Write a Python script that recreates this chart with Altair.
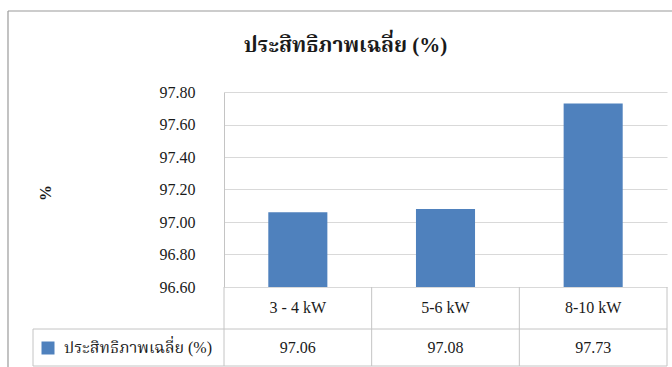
import altair as alt
import pandas as pd

# ---- data ----
categories = ["3 - 4 kW", "5-6 kW", "8-10 kW"]
efficiency = [97.06, 97.08, 97.73]
y_ticks = [96.6, 96.8, 97.0, 97.2, 97.4, 97.6, 97.8]
series_name = "ประสิทธิภาพเฉลี่ย (%)"
chart_title = "ประสิทธิภาพเฉลี่ย (%)"
y_title = "%"

df = pd.DataFrame({"size": categories, "eff": efficiency})
df["cell"] = df["size"]
one = pd.DataFrame({"k": [0]})

# ---- layout / style ----
W, H = 443, 195          # plot area
ROW = 40                 # data-table row height
SERIF = "Liberation Serif, Times New Roman, Noto Serif Thai, Noto Sans Thai, serif"
BLUE = "#4F81BD"
GRID = "#D9D9D9"
LINE = "#C4C4C4"
TXT = "#1a1a1a"

PAD_IN = 0.6
xscale = alt.Scale(paddingInner=PAD_IN, paddingOuter=PAD_IN / 2)
x_plain = alt.X("size:N", sort=categories, scale=xscale, axis=None)

y_enc = alt.Y(
    "eff:Q",
    scale=alt.Scale(domain=[y_ticks[0], y_ticks[-1]], zero=False, nice=False),
    axis=alt.Axis(values=y_ticks, format=".2f", ticks=False,
                  domainColor=LINE, gridColor=GRID, grid=True,
                  labelFont=SERIF, labelFontSize=16, labelColor=TXT,
                  labelPadding=29,
                  title=y_title, titleFont=SERIF, titleFontSize=16,
                  titleFontWeight="bold", titleColor=TXT, titleAngle=270,
                  titleAlign="center", titleBaseline="middle",
                  titleX=-179, titleY=H / 2 + 3),
)

bars = alt.Chart(df).mark_bar(color=BLUE, clip=True).encode(
    x=x_plain, y=y_enc, y2=alt.datum(y_ticks[0]))

# category row of the data table
cat_text = alt.Chart(df).mark_text(
    font=SERIF, fontSize=16, color=TXT, baseline="middle"
).encode(x=x_plain, y=alt.value(H + 21), text="size:N")

# value row of the data table
val_text = alt.Chart(df).mark_text(
    font=SERIF, fontSize=16, color=TXT, baseline="middle"
).encode(x=x_plain, y=alt.value(H + ROW + 21),
         text=alt.Text("eff:Q", format=".2f"))

# vertical cell borders at the right edge of each category column
cell_sep = alt.Chart(df).mark_rule(color=LINE, strokeWidth=1).encode(
    x=alt.X("cell:N", sort=categories, axis=None,
            scale=alt.Scale(paddingInner=0, paddingOuter=0),
            bandPosition=1),
    y=alt.value(H), y2=alt.value(H + 2 * ROW - 1))
table_left = alt.Chart(one).mark_rule(color=LINE, strokeWidth=1).encode(
    x=alt.value(0), y=alt.value(H), y2=alt.value(H + 2 * ROW - 1))

# horizontal table borders
row_sep = alt.Chart(one).mark_rule(color=LINE, strokeWidth=1).encode(
    x=alt.value(-191), x2=alt.value(W), y=alt.value(H + ROW + 2))
row_bottom = alt.Chart(one).mark_rule(color=LINE, strokeWidth=1).encode(
    x=alt.value(-191), x2=alt.value(W), y=alt.value(H + 2 * ROW - 1))
legend_left = alt.Chart(one).mark_rule(color=LINE, strokeWidth=1).encode(
    x=alt.value(-191), y=alt.value(H + ROW + 2), y2=alt.value(H + 2 * ROW - 1))

# legend key and series name
swatch = alt.Chart(one).mark_square(color=BLUE, size=169, opacity=1).encode(
    x=alt.value(-176), y=alt.value(H + ROW + 21))
series_label = alt.Chart(one).mark_text(
    font=SERIF, fontSize=16, color=TXT, align="left", baseline="middle"
).encode(x=alt.value(-160), y=alt.value(H + ROW + 21), text=alt.value(series_name))

# chart title
title = alt.Chart(one).mark_text(
    font=SERIF, fontSize=21, fontWeight="bold", color=TXT,
    align="center", baseline="alphabetic"
).encode(x=alt.value(121.5), y=alt.value(-40), text=alt.value(chart_title))

# outer chart frame (left and top edges)
frame_left = alt.Chart(one).mark_rule(color="#9a9a9a", strokeWidth=1.2).encode(
    x=alt.value(-216), y=alt.value(-81), y2=alt.value(H + 80))
frame_top = alt.Chart(one).mark_rule(color="#9a9a9a", strokeWidth=1.2).encode(
    x=alt.value(-216), x2=alt.value(W + 5), y=alt.value(-81))

chart = alt.layer(
    bars, cat_text, val_text, cell_sep, table_left, row_sep, row_bottom,
    legend_left, swatch, series_label, title, frame_left, frame_top,
).resolve_scale(x="independent").properties(
    width=W, height=H,
    autosize="none",
    padding={"left": 224, "top": 92, "right": 5, "bottom": 80},
    background="white",
).configure_view(stroke=None)

chart.save("out.html", embed_options={"renderer": "svg", "actions": False})
